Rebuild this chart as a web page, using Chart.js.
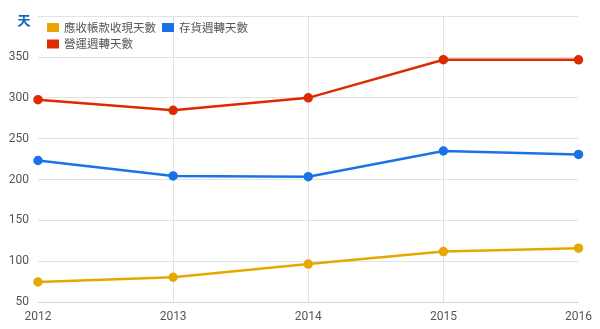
<!DOCTYPE html>
<html>
<head>
<meta charset="utf-8">
<script src="https://cdn.jsdelivr.net/npm/chart.js@4/dist/chart.umd.min.js"></script>
<style>
  body { margin: 0; background: #fff; }
  #wrap { width: 600px; height: 329px; position: relative; }
</style>
</head>
<body>
<div id="wrap"><canvas id="turnoverChart"></canvas></div>
<script>
// years on the x axis
var years = ['2012', '2013', '2014', '2015', '2016'];

// days per year for each series
var receivableDays = [74.5, 80.3, 96.5, 111.8, 115.9];
var inventoryDays = [223.3, 204.4, 203.5, 234.9, 230.7];
var operatingDays = [297.8, 284.7, 300.0, 346.7, 346.6];

var seriesNames = ['應收帳款收現天數', '存貨週轉天數', '營運週轉天數'];
var seriesColors = ['#e6a800', '#1a73e6', '#dd2a00'];
var unitLabel = '天';

var FONT = "Roboto, 'Noto Sans CJK TC', sans-serif";

function makeSet(i, values) {
    return {
        label: seriesNames[i],
        data: values,
        borderColor: seriesColors[i],
        backgroundColor: seriesColors[i],
        borderWidth: 2.5,
        pointRadius: 3.5,
        pointHoverRadius: 4,
        tension: 0,
        fill: false
    };
}

// legend sits inside the plot, two rows, plus the unit label above the y ticks
var innerLegend = {
    id: 'innerLegend',
    afterDraw: function(chart) {
        var ctx = chart.ctx;
        var spots = [
            { box: 47, text: 64, y: 27.5 },
            { box: 162, text: 179, y: 27.5 },
            { box: 47, text: 64, y: 44 }
        ];
        ctx.save();
        ctx.font = "11.5px 'Noto Sans CJK TC', sans-serif";
        ctx.textBaseline = 'middle';
        ctx.textAlign = 'left';
        chart.data.datasets.forEach(function(ds, i) {
            var s = spots[i];
            ctx.fillStyle = ds.borderColor;
            ctx.fillRect(s.box, s.y - 4.5, 12, 9);
            ctx.fillStyle = '#555';
            ctx.fillText(ds.label, s.text, s.y);
        });
        ctx.font = "bold 13px 'Noto Sans CJK TC', sans-serif";
        ctx.fillStyle = '#1565c0';
        ctx.textAlign = 'center';
        ctx.fillText(unitLabel, 24, 20.5);
        ctx.restore();
    }
};

var lastIdx = years.length - 1;

new Chart(document.getElementById('turnoverChart'), {
    type: 'line',
    data: {
        labels: years,
        datasets: [
            makeSet(0, receivableDays),
            makeSet(1, inventoryDays),
            makeSet(2, operatingDays)
        ]
    },
    options: {
        responsive: true,
        maintainAspectRatio: false,
        animation: false,
        layout: { padding: { top: 14, right: 20, left: 0, bottom: 0 } },
        plugins: {
            legend: { display: false },
            tooltip: { enabled: false }
        },
        scales: {
            x: {
                grid: {
                    drawTicks: false,
                    color: function(c) {
                        return (c.index === 0 || c.index === lastIdx) ? 'rgba(0,0,0,0)' : '#e2e2e2';
                    }
                },
                border: { display: true, color: '#d6d6d6', width: 1 },
                ticks: {
                    padding: 8,
                    color: '#555',
                    font: { family: FONT, size: 12 },
                    maxRotation: 0
                },
                afterFit: function(s) { s.height = 27; }
            },
            y: {
                min: 50,
                max: 400,
                grid: { drawTicks: false, color: '#e2e2e2' },
                border: { display: false },
                ticks: {
                    stepSize: 50,
                    padding: 9,
                    color: '#555',
                    font: { family: FONT, size: 12 },
                    callback: function(v) { return v === 400 ? '' : v; }
                },
                afterFit: function(s) { s.width = 38; }
            }
        }
    },
    plugins: [innerLegend]
});
</script>
</body>
</html>
